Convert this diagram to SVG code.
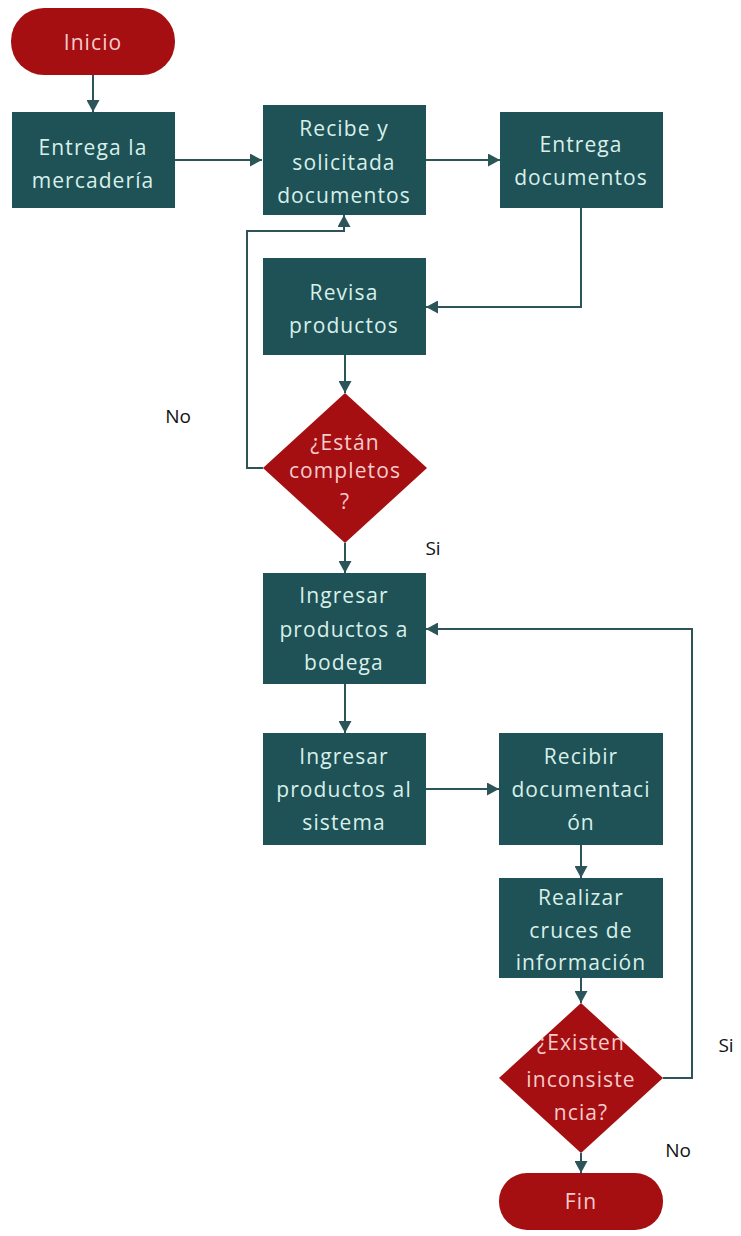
<svg xmlns="http://www.w3.org/2000/svg" width="741" height="1236" viewBox="0 0 741 1236">
<defs>
<marker id="arr" markerUnits="userSpaceOnUse" markerWidth="13" markerHeight="13" refX="12" refY="6.5" orient="auto">
<path d="M0,0 L12,6.5 L0,13 z" fill="#2b5558"/>
</marker>
<style>
.proc{fill:#1e5256;}
.term{fill:#a50f12;}
.dec{fill:#a50f12;}
.pt{font-family:"Open Sans","Liberation Sans",sans-serif;font-size:21px;fill:#d9efe9;text-anchor:middle;letter-spacing:1.1px;}
.rt{font-family:"Open Sans","Liberation Sans",sans-serif;font-size:21px;fill:#f6cccc;text-anchor:middle;letter-spacing:1.1px;}
.lbl{font-family:"Open Sans","Liberation Sans",sans-serif;font-size:19px;fill:#111;text-anchor:middle;}
.con{fill:none;stroke:#2b5558;stroke-width:2;marker-end:url(#arr);}
</style>
</defs>
<rect width="741" height="1236" fill="#ffffff"/>
<g id="connectors">
<path class="con" d="M93,75 V112"/>
<path class="con" d="M175,160 H262"/>
<path class="con" d="M426,160 H500"/>
<path class="con" d="M581,208 V307 H426"/>
<path class="con" d="M345,355 V393"/>
<path class="con" d="M263,468 H247 V231 H344 V215"/>
<path class="con" d="M345,543 V573"/>
<path class="con" d="M345,684 V733"/>
<path class="con" d="M426,789 H499"/>
<path class="con" d="M581,845 V878"/>
<path class="con" d="M581,978 V1003"/>
<path class="con" d="M663,1078 H692 V629 H426"/>
<path class="con" d="M581,1153 V1173"/>
</g>
<g id="inicio">
<rect class="term" x="11" y="8" width="164" height="67" rx="33" ry="33"/>
<text class="rt" x="93" y="50">Inicio</text>
</g>
<g id="entrega-mercaderia">
<rect class="proc" x="12" y="112" width="163" height="96"/>
<text class="pt" x="93" y="155">Entrega la</text>
<text class="pt" x="93" y="188">mercadería</text>
</g>
<g id="recibe-solicita">
<rect class="proc" x="263" y="105" width="163" height="110"/>
<text class="pt" x="344" y="136">Recibe y</text>
<text class="pt" x="344" y="170">solicitada</text>
<text class="pt" x="344" y="203">documentos</text>
</g>
<g id="entrega-documentos">
<rect class="proc" x="500" y="112" width="163" height="96"/>
<text class="pt" x="581" y="152">Entrega</text>
<text class="pt" x="581" y="185">documentos</text>
</g>
<g id="revisa-productos">
<rect class="proc" x="263" y="258" width="163" height="97"/>
<text class="pt" x="344" y="300">Revisa</text>
<text class="pt" x="344" y="333">productos</text>
</g>
<g id="estan-completos">
<polygon class="dec" points="345,393 427,468 345,543 263,468"/>
<text class="rt" x="345" y="450">¿Están</text>
<text class="rt" x="345" y="478">completos</text>
<text class="rt" x="345" y="509">?</text>
</g>
<g id="ingresar-bodega">
<rect class="proc" x="263" y="573" width="163" height="111"/>
<text class="pt" x="344" y="603">Ingresar</text>
<text class="pt" x="344" y="637">productos a</text>
<text class="pt" x="344" y="670">bodega</text>
</g>
<g id="ingresar-sistema">
<rect class="proc" x="263" y="733" width="163" height="112"/>
<text class="pt" x="344" y="764">Ingresar</text>
<text class="pt" x="344" y="797">productos al</text>
<text class="pt" x="344" y="830">sistema</text>
</g>
<g id="recibir-documentacion">
<rect class="proc" x="499" y="733" width="164" height="112"/>
<text class="pt" x="581" y="764">Recibir</text>
<text class="pt" x="581" y="797">documentaci</text>
<text class="pt" x="581" y="830">ón</text>
</g>
<g id="realizar-cruces">
<rect class="proc" x="499" y="878" width="164" height="100"/>
<text class="pt" x="581" y="905">Realizar</text>
<text class="pt" x="581" y="938">cruces de</text>
<text class="pt" x="581" y="970">información</text>
</g>
<g id="existen-inconsistencia">
<polygon class="dec" points="581,1003 663,1078 581,1153 499,1078"/>
<text class="rt" x="581" y="1050">¿Existen</text>
<text class="rt" x="581" y="1087">inconsiste</text>
<text class="rt" x="581" y="1120">ncia?</text>
</g>
<g id="fin">
<rect class="term" x="499" y="1173" width="164" height="57" rx="28" ry="28"/>
<text class="rt" x="581" y="1209">Fin</text>
</g>
<g id="labels">
<text class="lbl" x="178" y="423">No</text>
<text class="lbl" x="433" y="555">Si</text>
<text class="lbl" x="726" y="1052">Si</text>
<text class="lbl" x="678" y="1157">No</text>
</g>
</svg>
